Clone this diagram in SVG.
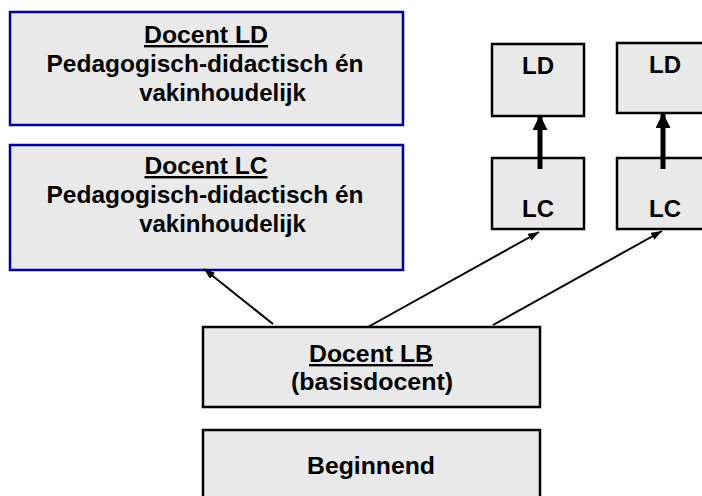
<svg xmlns="http://www.w3.org/2000/svg" width="702" height="496" viewBox="0 0 702 496">
  <style>
    .big { fill: #e9e9e9; stroke: #000099; stroke-width: 2.5; }
    .box { fill: #e9e9e9; stroke: #000000; stroke-width: 2.5; }
    text { font-family: "Liberation Sans", Arial, sans-serif; font-weight: bold; font-size: 24px; fill: #000; text-anchor: middle; }
    .u { text-decoration: underline; }
    .thin { stroke: #000; stroke-width: 2; fill: none; marker-end: url(#headSmall); }
    .thick { stroke: #000; stroke-width: 5; fill: none; marker-end: url(#headBig); }
  </style>
  <defs>
    <marker id="headSmall" markerUnits="userSpaceOnUse" markerWidth="12" markerHeight="9" refX="11" refY="4" orient="auto">
      <path d="M0,0 L11,4 L0,8 z" fill="#000"/>
    </marker>
    <marker id="headBig" markerUnits="userSpaceOnUse" markerWidth="16" markerHeight="16" refX="15" refY="7.5" orient="auto">
      <path d="M0,0 L15,7.5 L0,15 z" fill="#000"/>
    </marker>
  </defs>
  <rect width="702" height="496" fill="#ffffff"/>

  <g id="docent-ld">
    <rect class="big" x="10" y="12" width="393" height="113"/>
    <text x="206" y="43" class="u" textLength="124" lengthAdjust="spacingAndGlyphs">Docent LD</text>
    <text x="205" y="72" textLength="317" lengthAdjust="spacingAndGlyphs">Pedagogisch-didactisch én</text>
    <text x="222.5" y="101">vakinhoudelijk</text>
  </g>

  <g id="docent-lc">
    <rect class="big" x="10" y="145" width="393" height="125"/>
    <text x="206" y="174" class="u" textLength="123" lengthAdjust="spacingAndGlyphs">Docent LC</text>
    <text x="205" y="203" textLength="317" lengthAdjust="spacingAndGlyphs">Pedagogisch-didactisch én</text>
    <text x="222.5" y="232">vakinhoudelijk</text>
  </g>

  <g id="ld-1">
    <rect class="box" x="492" y="44" width="92" height="72"/>
    <text x="538" y="74">LD</text>
  </g>
  <g id="lc-1">
    <rect class="box" x="492" y="158" width="92" height="71"/>
    <text x="538" y="217">LC</text>
  </g>
  <g id="ld-2">
    <rect class="box" x="617" y="43" width="96" height="70"/>
    <text x="665" y="73">LD</text>
  </g>
  <g id="lc-2">
    <rect class="box" x="617" y="158" width="96" height="71"/>
    <text x="665" y="217">LC</text>
  </g>

  <g id="docent-lb">
    <rect class="box" x="203" y="327" width="337" height="80"/>
    <text x="371" y="362" class="u" textLength="124" lengthAdjust="spacingAndGlyphs">Docent LB</text>
    <text x="372" y="390" textLength="162" lengthAdjust="spacingAndGlyphs">(basisdocent)</text>
  </g>

  <g id="beginnend">
    <rect class="box" x="203" y="430" width="337" height="80"/>
    <text x="371" y="474" textLength="128" lengthAdjust="spacingAndGlyphs">Beginnend</text>
  </g>

  <g id="connectors">
    <line class="thin" x1="273" y1="324" x2="204" y2="269"/>
    <line class="thin" x1="368" y1="327" x2="539" y2="232"/>
    <line class="thin" x1="493" y1="325" x2="662" y2="231"/>
    <line class="thick" x1="540" y1="169" x2="540" y2="115"/>
    <line class="thick" x1="663" y1="169" x2="663" y2="113"/>
  </g>
</svg>
